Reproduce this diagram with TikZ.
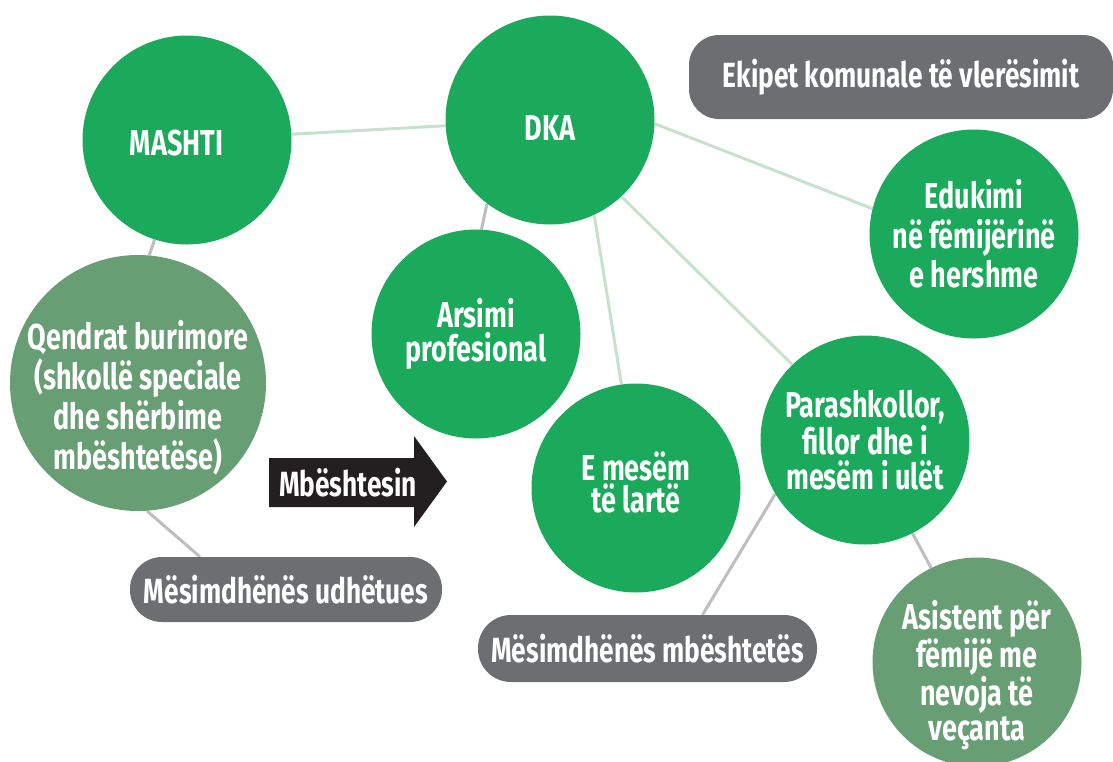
\documentclass[tikz,border=0pt]{standalone}
\usepackage{fontspec}
\setmainfont{Fira Sans}[FakeStretch=0.75]
\usetikzlibrary{backgrounds}

\definecolor{bubblegreen}{RGB}{27,170,92}
\definecolor{sagegreen}{RGB}{104,158,116}
\definecolor{boxgray}{RGB}{109,110,114}
\definecolor{arrowblack}{RGB}{35,31,32}
\definecolor{palegreen}{RGB}{198,226,205}
\definecolor{palegray}{RGB}{190,190,193}

% struts that push the text down (or up) inside a bubble
\newcommand{\lift}[1]{\rule{0pt}{#1}}
\newcommand{\sink}[1]{\rule[-#1]{0pt}{#1}}

\begin{document}
\begin{tikzpicture}[x=1pt,y=-1pt,
  bubble/.style={circle,fill=bubblegreen,text=white,minimum size=209pt,inner sep=-60pt,align=center},
  sage/.style={bubble,fill=sagegreen},
  lead/.style={font=\bfseries\fontsize{36}{#1}\selectfont},
  pill/.style={rounded corners=#1,fill=boxgray,text=white,inner sep=0pt,font=\bfseries\fontsize{35}{40}\selectfont},
  greenlink/.style={draw=palegreen,line width=3pt},
  graylink/.style={draw=palegray,line width=3pt}]
  \useasboundingbox (0,0) rectangle (1113,761);

  \node[bubble,lead=40] (mashti) at (187,140) {\lift{32pt}MASHTI\rule{21pt}{0pt}};
  \node[bubble,lead=40] (dka) at (550,120) {\lift{40pt}DKA};
  \node[bubble,lead=34] (arsimi) at (476,334) {Arsimi\\profesional};
  \node[bubble,lead=32] (emesem) at (636,488) {E mesëm\\të lartë\sink{12pt}};
  \node[bubble,lead=35] (parashk) at (865,440) {Parashkollor,\\fillor dhe i\\mesëm i ulët};
  \node[bubble,lead=39.5] (edukimi) at (974,234) {Edukimi\\në fëmijërinë\\e hershme};
  \node[sage,lead=40,minimum size=256pt] (qendrat) at (138,383) {\lift{58pt}Qendrat burimore\\(shkollë speciale\\dhe shërbime\\mbështetëse)};
  \node[sage,lead=35] (asistent) at (977,662) {\lift{56pt}Asistent për\\fëmijë me\\nevoja të\\veçanta};

  \node[pill=30pt,minimum width=424pt,minimum height=84pt] (ekipet) at (901,77) {Ekipet komunale të vlerësimit};
  \node[pill=32pt,minimum width=312pt,minimum height=65pt] (udhetues) at (286,589.5) {Mësimdhënës udhëtues};
  \node[pill=33pt,minimum width=339pt,minimum height=67pt] (mbeshtetes) at (647.5,648.5) {Mësimdhënës mbështetës};

  % the arrow
  \fill[arrowblack] (269,458) -- (414,458) -- (414,436) -- (447,481.5) -- (414,527) -- (414,507) -- (269,507) -- cycle;
  \node[text=white,inner sep=0pt,font=\bfseries\fontsize{35}{40}\selectfont] (mbeshtesin) at (348,483) {Mbështesin};

  \begin{scope}[on background layer]
    \draw[greenlink] (mashti) -- (dka);
    \draw[greenlink] (dka.-2) -- (edukimi.166);
    \draw[greenlink] (dka.-65) -- (emesem.98);
    \draw[greenlink] (dka.-47) -- (parashk.134);
    \draw[graylink] (dka.233) -- (arsimi.87);
    \draw[graylink] (mashti.252) -- (qendrat.85);
    \draw[graylink] (qendrat.-86) -- ([xshift=-86pt]udhetues.north);
    \draw[graylink] (parashk.211) -- ([xshift=55pt]mbeshtetes.north);
    \draw[graylink] (parashk.-63) -- (asistent.116);
  \end{scope}
\end{tikzpicture}
\end{document}
